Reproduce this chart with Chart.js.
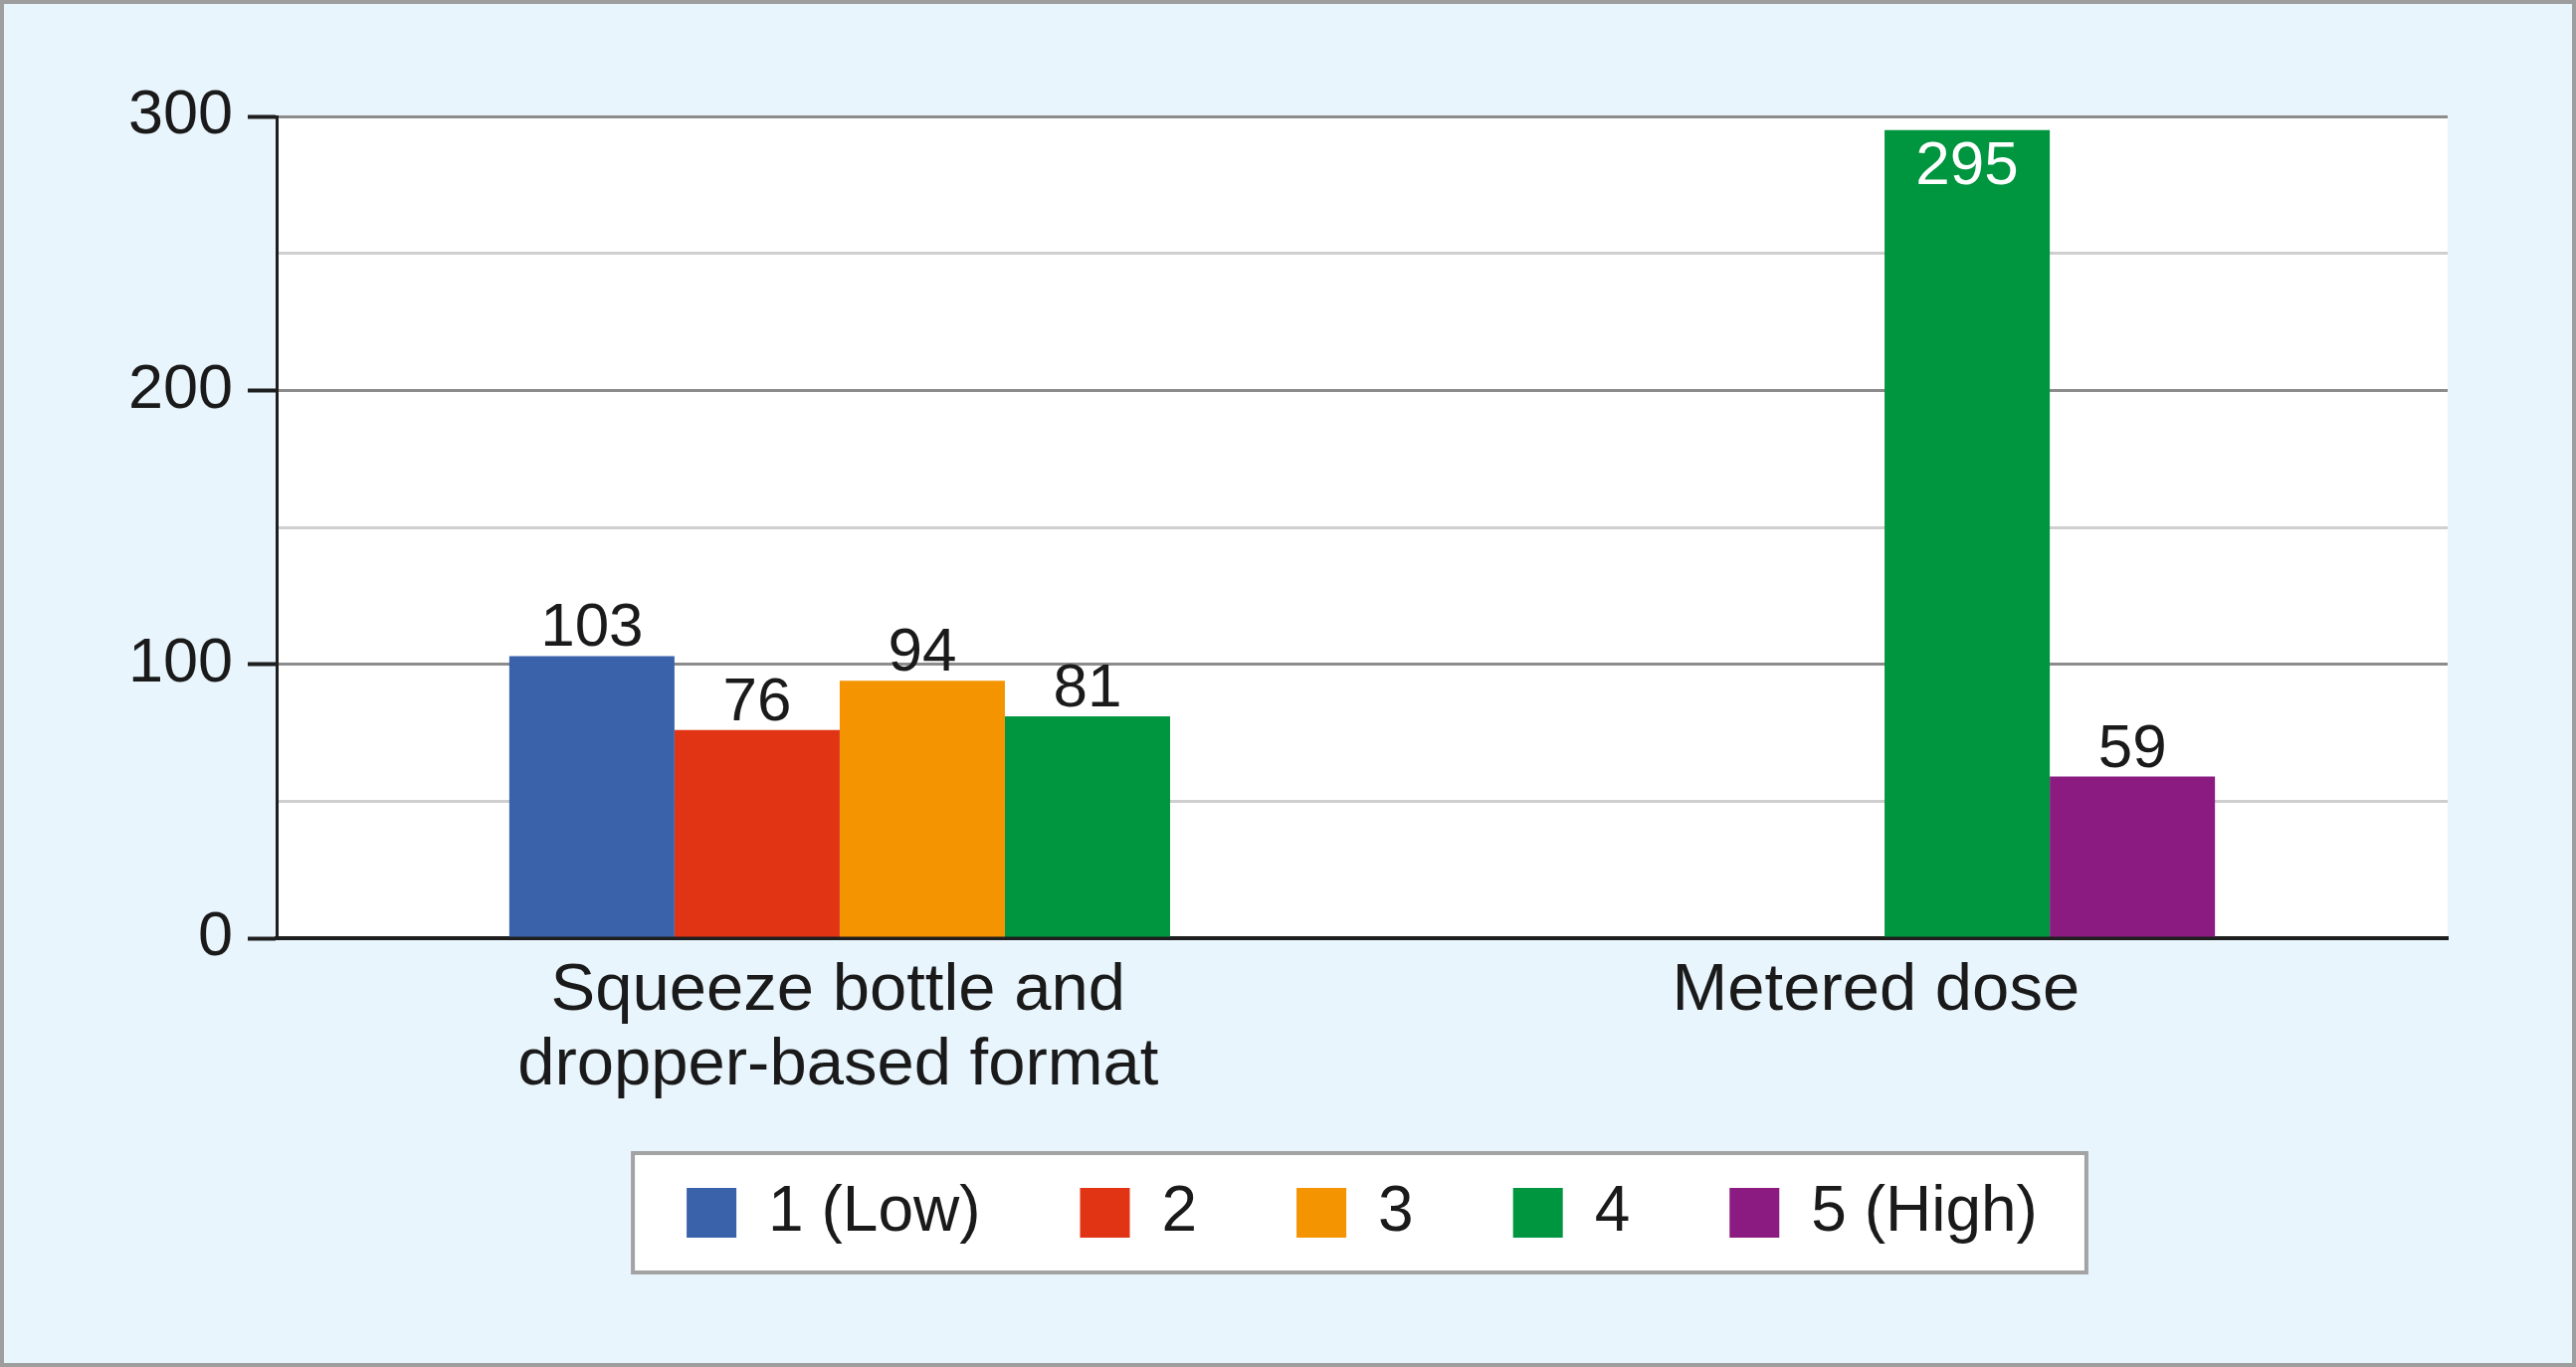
<!DOCTYPE html>
<html>
<head>
<meta charset="utf-8">
<script src="https://cdn.jsdelivr.net/npm/chart.js@4.4.1/dist/chart.umd.min.js"></script>
<style>
  html, body { margin: 0; padding: 0; background: #e8f5fd; }
  #frame { width: 2589px; height: 1374px; box-sizing: border-box; border: 4px solid #9e9e9e; background: #e8f5fd; }
  canvas { display: block; }
</style>
</head>
<body>
<div id="frame"><canvas id="chart" width="2581" height="1366"></canvas></div>
<script>
// Data
const categories = [["Squeeze bottle and", "dropper-based format"], "Metered dose"];
const seriesNames = ["1 (Low)", "2", "3", "4", "5 (High)"];
const seriesColors = ["#3a62ab", "#e03414", "#f39400", "#00953f", "#8b1b80"];
const lowValues = [103, null];
const twoValues = [76, null];
const threeValues = [94, null];
const fourValues = [81, 295];
const highValues = [null, 59];
const yTicks = [0, 100, 200, 300];

const FONT = '"Liberation Sans", Arial, sans-serif';
const TEXT = "#1a1a1a";

const categoryTicks = (scale) => {
  scale.ticks = categories.map((c, i) => ({ value: i }));
};

const datasets = [lowValues, twoValues, threeValues, fourValues, highValues].map((vals, i) => ({
  label: seriesNames[i],
  data: vals.map((v, j) => ({ x: j, y: v })),
  backgroundColor: seriesColors[i],
  borderWidth: 0,
  barPercentage: 1,
  categoryPercentage: 0.939,
}));

// white plot area + boxed legend
const framePlugin = {
  id: "frame",
  afterLayout(chart) {
    // pull the legend up so it sits closer under the axis labels
    const lg = chart.legend;
    const h = lg.bottom - lg.top;
    lg.top = 1083;
    lg.bottom = lg.top + h;
  },
  beforeDraw(chart) {
    const { ctx, chartArea: a, legend } = chart;
    ctx.save();
    ctx.fillStyle = "#ffffff";
    ctx.fillRect(a.left, a.top, a.right - a.left, a.bottom - a.top);
    const boxes = legend && legend.legendHitBoxes;
    if (boxes && boxes.length) {
      const left = Math.min(...boxes.map((b) => b.left)) - 54;
      const right = Math.max(...boxes.map((b) => b.left + b.width)) + 49;
      const mid = boxes[0].top + boxes[0].height / 2;
      ctx.fillRect(left, mid - 60, right - left, 120);
      ctx.strokeStyle = "#a3a3a3";
      ctx.lineWidth = 4;
      ctx.strokeRect(left, mid - 60, right - left, 120);
    }
    ctx.restore();
  },
};

// value labels on the bars
const valuePlugin = {
  id: "values",
  afterDatasetsDraw(chart) {
    const { ctx, chartArea } = chart;
    ctx.save();
    ctx.font = "62px " + FONT;
    ctx.textAlign = "center";
    chart.data.datasets.forEach((ds, i) => {
      chart.getDatasetMeta(i).data.forEach((bar, j) => {
        const v = ds.data[j].y;
        if (v == null) return;
        if (bar.y - 60 < chartArea.top) {
          ctx.fillStyle = "#ffffff";
          ctx.textBaseline = "top";
          ctx.fillText(String(v), bar.x, bar.y + 6);
        } else {
          ctx.fillStyle = TEXT;
          ctx.textBaseline = "alphabetic";
          ctx.fillText(String(v), bar.x, bar.y - 10);
        }
      });
    });
    ctx.restore();
  },
};

new Chart(document.getElementById("chart"), {
  type: "bar",
  data: { datasets },
  plugins: [framePlugin, valuePlugin],
  options: {
    responsive: false,
    animation: false,
    layout: { padding: { top: 113, right: 125, left: 0, bottom: 86 } },
    plugins: {
      tooltip: { enabled: false },
      legend: {
        position: "bottom",
        fullSize: false,
        labels: {
          font: { family: FONT, size: 64 },
          color: TEXT,
          boxWidth: 50,
          boxHeight: 50,
          padding: 100,
        },
      },
    },
    scales: {
      x: {
        type: "linear",
        min: -0.734,
        max: 1.734,
        offset: false,
        display: false,
        afterBuildTicks: categoryTicks,
      },
      xl: {
        type: "linear",
        position: "bottom",
        min: -0.541,
        max: 1.551,
        offset: false,
        afterBuildTicks: categoryTicks,
        grid: { display: false, drawTicks: false, offset: false },
        border: { color: "#1e1e1e", width: 4 },
        ticks: {
          callback: (v) => categories[v],
          font: { family: FONT, size: 67, lineHeight: 1.12 },
          color: TEXT,
          padding: 16,
          maxRotation: 0,
          autoSkip: false,
        },
        afterFit: (s) => { s.height = 167; },
      },
      y: {
        min: 0,
        max: 300,
        ticks: {
          stepSize: 50,
          callback: (v) => (yTicks.includes(v) ? v : ""),
          font: { family: FONT, size: 63 },
          color: TEXT,
          padding: 15,
        },
        grid: {
          color: (c) => (c.tick && yTicks.includes(c.tick.value) ? "#8c8c8c" : "#cfcfcf"),
          lineWidth: 3,
          tickColor: (c) => (c.tick && yTicks.includes(c.tick.value) ? "#1e1e1e" : "rgba(0,0,0,0)"),
          tickLength: 29,
          tickWidth: 4,
        },
        border: { color: "#1e1e1e", width: 3 },
        afterFit: (s) => { s.width = 274; },
      },
    },
  },
});
</script>
</body>
</html>
